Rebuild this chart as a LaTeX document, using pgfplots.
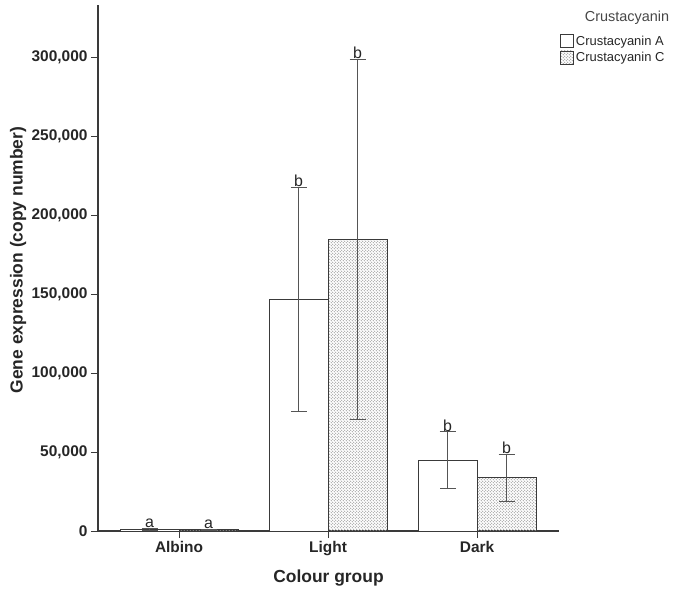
\documentclass[border=0pt]{standalone}
\usepackage{fontspec}
\setmainfont{Liberation Sans}
\usepackage{pgfplots}
\usepackage{pgfplotstable}
\pgfplotsset{compat=1.18}
\usetikzlibrary{patterns}
\definecolor{Ink}{HTML}{262626}
\definecolor{BarLine}{HTML}{3A3A3A}
\definecolor{ErrGray}{HTML}{555555}

% fine grey dots, like the SPSS fill
\pgfdeclarepatternformonly{finedots}{\pgfpointorigin}{\pgfpoint{3pt}{3pt}}{\pgfpoint{3pt}{3pt}}{%
  \pgfpathcircle{\pgfpoint{0.75pt}{0.75pt}}{0.55pt}%
  \pgfpathcircle{\pgfpoint{2.25pt}{2.25pt}}{0.55pt}%
  \pgfusepath{fill}}

\pgfplotsset{boxlegend/.style={legend image code/.code={%
  \draw[##1,line width=0.8bp] (0bp,-6bp) rectangle (13bp,7bp);}}}

% bars: x position, mean, error up, error down
\pgfplotstableread{
x      y      ep     em
-0.198 1200   600    600
0.802  146700 71000  71000
1.802  44800  17900  17900
}\crusA
\pgfplotstableread{
x      y      ep     em
0.198  700    300    300
1.198  184600 114100 114100
2.198  33600  15000  15000
}\crusC

\begin{document}
\begin{tikzpicture}
\begin{axis}[
  name=ax, scale only axis, width=461bp, height=526bp,
  xmin=-0.544, xmax=2.55, ymin=0, ymax=333000,
  axis x line*=bottom, axis y line*=left,
  axis line style={BarLine, line width=1.6bp, -},
  xtick={0,1,2}, xticklabels={Albino,Light,Dark},
  ytick={0,50000,...,300000},
  scaled y ticks=false,
  yticklabel style={/pgf/number format/fixed, /pgf/number format/1000 sep={,}},
  /pgf/number format/assume math mode=true,
  tick style={BarLine, line width=1bp},
  tick align=outside, major tick length=7bp,
  ticklabel style={font=\fontsize{15.5}{18}\selectfont\bfseries, color=Ink},
  xlabel={Colour group}, ylabel={Gene expression (copy number)},
  every axis x label/.style={at={(axis description cs:0.5,-0.09)}, anchor=center,
    font=\fontsize{17.5}{20}\selectfont\bfseries, color=Ink},
  every axis y label/.style={at={(axis description cs:-0.1735,0.515)}, rotate=90, anchor=center,
    font=\fontsize{17.5}{20}\selectfont\bfseries, color=Ink},
  ybar, bar width=0.396, bar shift=0pt,
  clip=false,
  legend style={at={(axis description cs:1.002,0.945)}, anchor=north west,
    draw=none, fill=none, inner sep=0pt, row sep=1.5bp,
    font=\fontsize{13}{15}\selectfont, text=Ink,
    cells={anchor=west}},
  error bars/y dir=both, error bars/y explicit,
  error bars/error bar style={ErrGray, line width=1bp},
  error bars/error mark options={rotate=90, mark size=8bp, ErrGray, line width=1bp},
]
\addplot[draw=BarLine, fill=white, line width=1bp, boxlegend]
  table[x=x, y=y, y error plus=ep, y error minus=em] {\crusA};
\addlegendentry{Crustacyanin A}
\addplot[draw=BarLine, pattern=finedots, pattern color=gray!80, line width=1bp, boxlegend]
  table[x=x, y=y, y error plus=ep, y error minus=em] {\crusC};
\addlegendentry{Crustacyanin C}

\node[font=\fontsize{14.5}{17}\selectfont, text=Ink!85] at (axis description cs:1.1475,0.9766) {Crustacyanin};

\tikzset{sig/.style={font=\fontsize{16}{19}\selectfont, text=Ink, anchor=south, inner sep=0.5bp}}
\node[sig] at (axis cs:-0.198,1800) {a};
\node[sig] at (axis cs:0.198,1000) {a};
\node[sig] at (axis cs:0.802,217700) {b};
\node[sig] at (axis cs:1.198,298700) {b};
\node[sig] at (axis cs:1.802,62700) {b};
\node[sig] at (axis cs:2.198,48600) {b};
\end{axis}
\pgfresetboundingbox
\path ([shift={(-98bp,-61bp)}]ax.south west) rectangle ([shift={(114bp,5bp)}]ax.north east);
\end{tikzpicture}
\end{document}
